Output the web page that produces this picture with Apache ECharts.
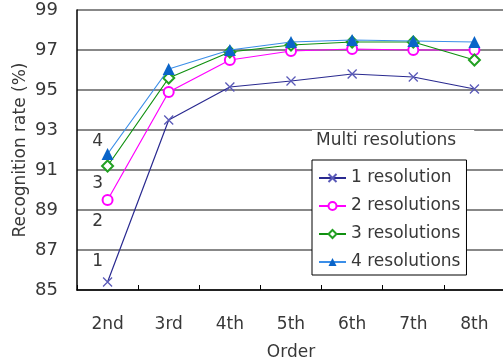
<!DOCTYPE html>
<html>
<head>
<meta charset="utf-8">
<script src="https://cdn.jsdelivr.net/npm/echarts@6/dist/echarts.min.js"></script>
<style>html,body{margin:0;padding:0;background:#fff}#c{width:503px;height:363px}</style>
</head>
<body>
<div id="c"></div>
<script>
const categories = ['2nd', '3rd', '4th', '5th', '6th', '7th', '8th'];
const seriesNames = ['1 resolution', '2 resolutions', '3 resolutions', '4 resolutions'];
const res1 = [85.4, 93.5, 95.15, 95.45, 95.8, 95.65, 95.05];
const res2 = [89.5, 94.9, 96.5, 96.95, 97.05, 97.0, 97.0];
const res3 = [91.2, 95.6, 96.9, 97.25, 97.4, 97.4, 96.5];
const res4 = [91.8, 96.05, 97.0, 97.4, 97.5, 97.45, 97.4];
const yTicks = [85, 87, 89, 91, 93, 95, 97, 99];
const annoLabels = ['1', '2', '3', '4'];
const annoValues = [86.4, 88.4, 90.3, 92.4];
const legendTitle = 'Multi resolutions';

const FONT = 'DejaVu Sans';
const TXT = '#383838';
const chart = echarts.init(document.getElementById('c'), null, {renderer: 'canvas'});

const xSym = 'path://M0,0L10,10M10,0L0,10';

chart.setOption({
  animation: false,
  backgroundColor: '#fff',
  textStyle: {fontFamily: FONT},
  title: {
    text: legendTitle,
    left: 312, top: 130,
    padding: [2, 18, 2, 4],
    backgroundColor: '#fff',
    textStyle: {fontFamily: FONT, fontSize: 17, fontWeight: 'normal', color: TXT}
  },
  legend: {
    data: seriesNames,
    orient: 'vertical',
    left: 312, top: 160,
    padding: [8, 6, 3, 6],
    itemGap: 8,
    itemWidth: 27, itemHeight: 10,
    backgroundColor: '#fff',
    borderColor: '#000', borderWidth: 1, borderRadius: 0,
    textStyle: {fontFamily: FONT, fontSize: 17, color: TXT, lineHeight: 20}
  },
  grid: {left: 77, top: 10, width: 428, height: 280, outerBoundsMode: 'none', containLabel: false},
  xAxis: {
    type: 'category',
    data: categories,
    boundaryGap: true,
    name: 'Order', nameLocation: 'middle', nameGap: 54, nameMoveOverlap: false,
    nameTextStyle: {fontFamily: FONT, fontSize: 17, color: TXT},
    axisLine: {lineStyle: {color: '#000', width: 1.5}},
    axisTick: {show: true, inside: true, length: 5, lineStyle: {color: '#000'}},
    axisLabel: {margin: 26, fontFamily: FONT, fontSize: 17, color: TXT},
    splitLine: {show: false}
  },
  yAxis: {
    type: 'value',
    min: 85, max: 99, interval: 2,
    name: 'Recognition rate (%)', nameLocation: 'middle', nameGap: 48, nameMoveOverlap: false,
    nameTextStyle: {fontFamily: FONT, fontSize: 17, color: TXT},
    axisLine: {show: true, lineStyle: {color: '#000', width: 1.5}},
    axisTick: {show: false},
    axisLabel: {margin: 19, fontFamily: FONT, fontSize: 18, color: TXT,
      formatter: v => yTicks.includes(v) ? String(v) : ''},
    splitLine: {show: true, lineStyle: {color: '#888', width: 2}}
  },
  series: [
    {
      name: seriesNames[0], type: 'line', data: res1,
      symbol: xSym, symbolSize: 9, showAllSymbol: true,
      lineStyle: {color: '#2a2a90', width: 1.2},
      itemStyle: {color: '#5a5ab8', borderColor: '#5a5ab8', borderWidth: 1.3},
      markPoint: {
        symbol: 'rect', symbolSize: 1,
        itemStyle: {color: 'rgba(0,0,0,0)'},
        label: {show: true, position: 'inside', offset: [-10, 0], fontFamily: FONT, fontSize: 17, color: TXT,
          formatter: p => p.name},
        data: annoLabels.map((t, i) => ({name: t, coord: [categories[0], annoValues[i]]}))
      },
      z: 3
    },
    {
      name: seriesNames[1], type: 'line', data: res2,
      symbol: 'emptyCircle', symbolSize: 10,
      lineStyle: {color: '#ff00ff', width: 1.2},
      itemStyle: {color: '#ff00ff', borderColor: '#ff00ff', borderWidth: 1.2},
      z: 4
    },
    {
      name: seriesNames[2], type: 'line', data: res3,
      symbol: 'emptyDiamond', symbolSize: 11,
      lineStyle: {color: '#109010', width: 1.2},
      itemStyle: {color: '#22a022', borderColor: '#22a022', borderWidth: 1.2},
      z: 5
    },
    {
      name: seriesNames[3], type: 'line', data: res4,
      symbol: 'triangle', symbolSize: 12,
      lineStyle: {color: '#3b8ee8', width: 1.2},
      itemStyle: {color: '#0a64c8', borderWidth: 0},
      z: 6
    }
  ]
});
</script>
</body>
</html>
